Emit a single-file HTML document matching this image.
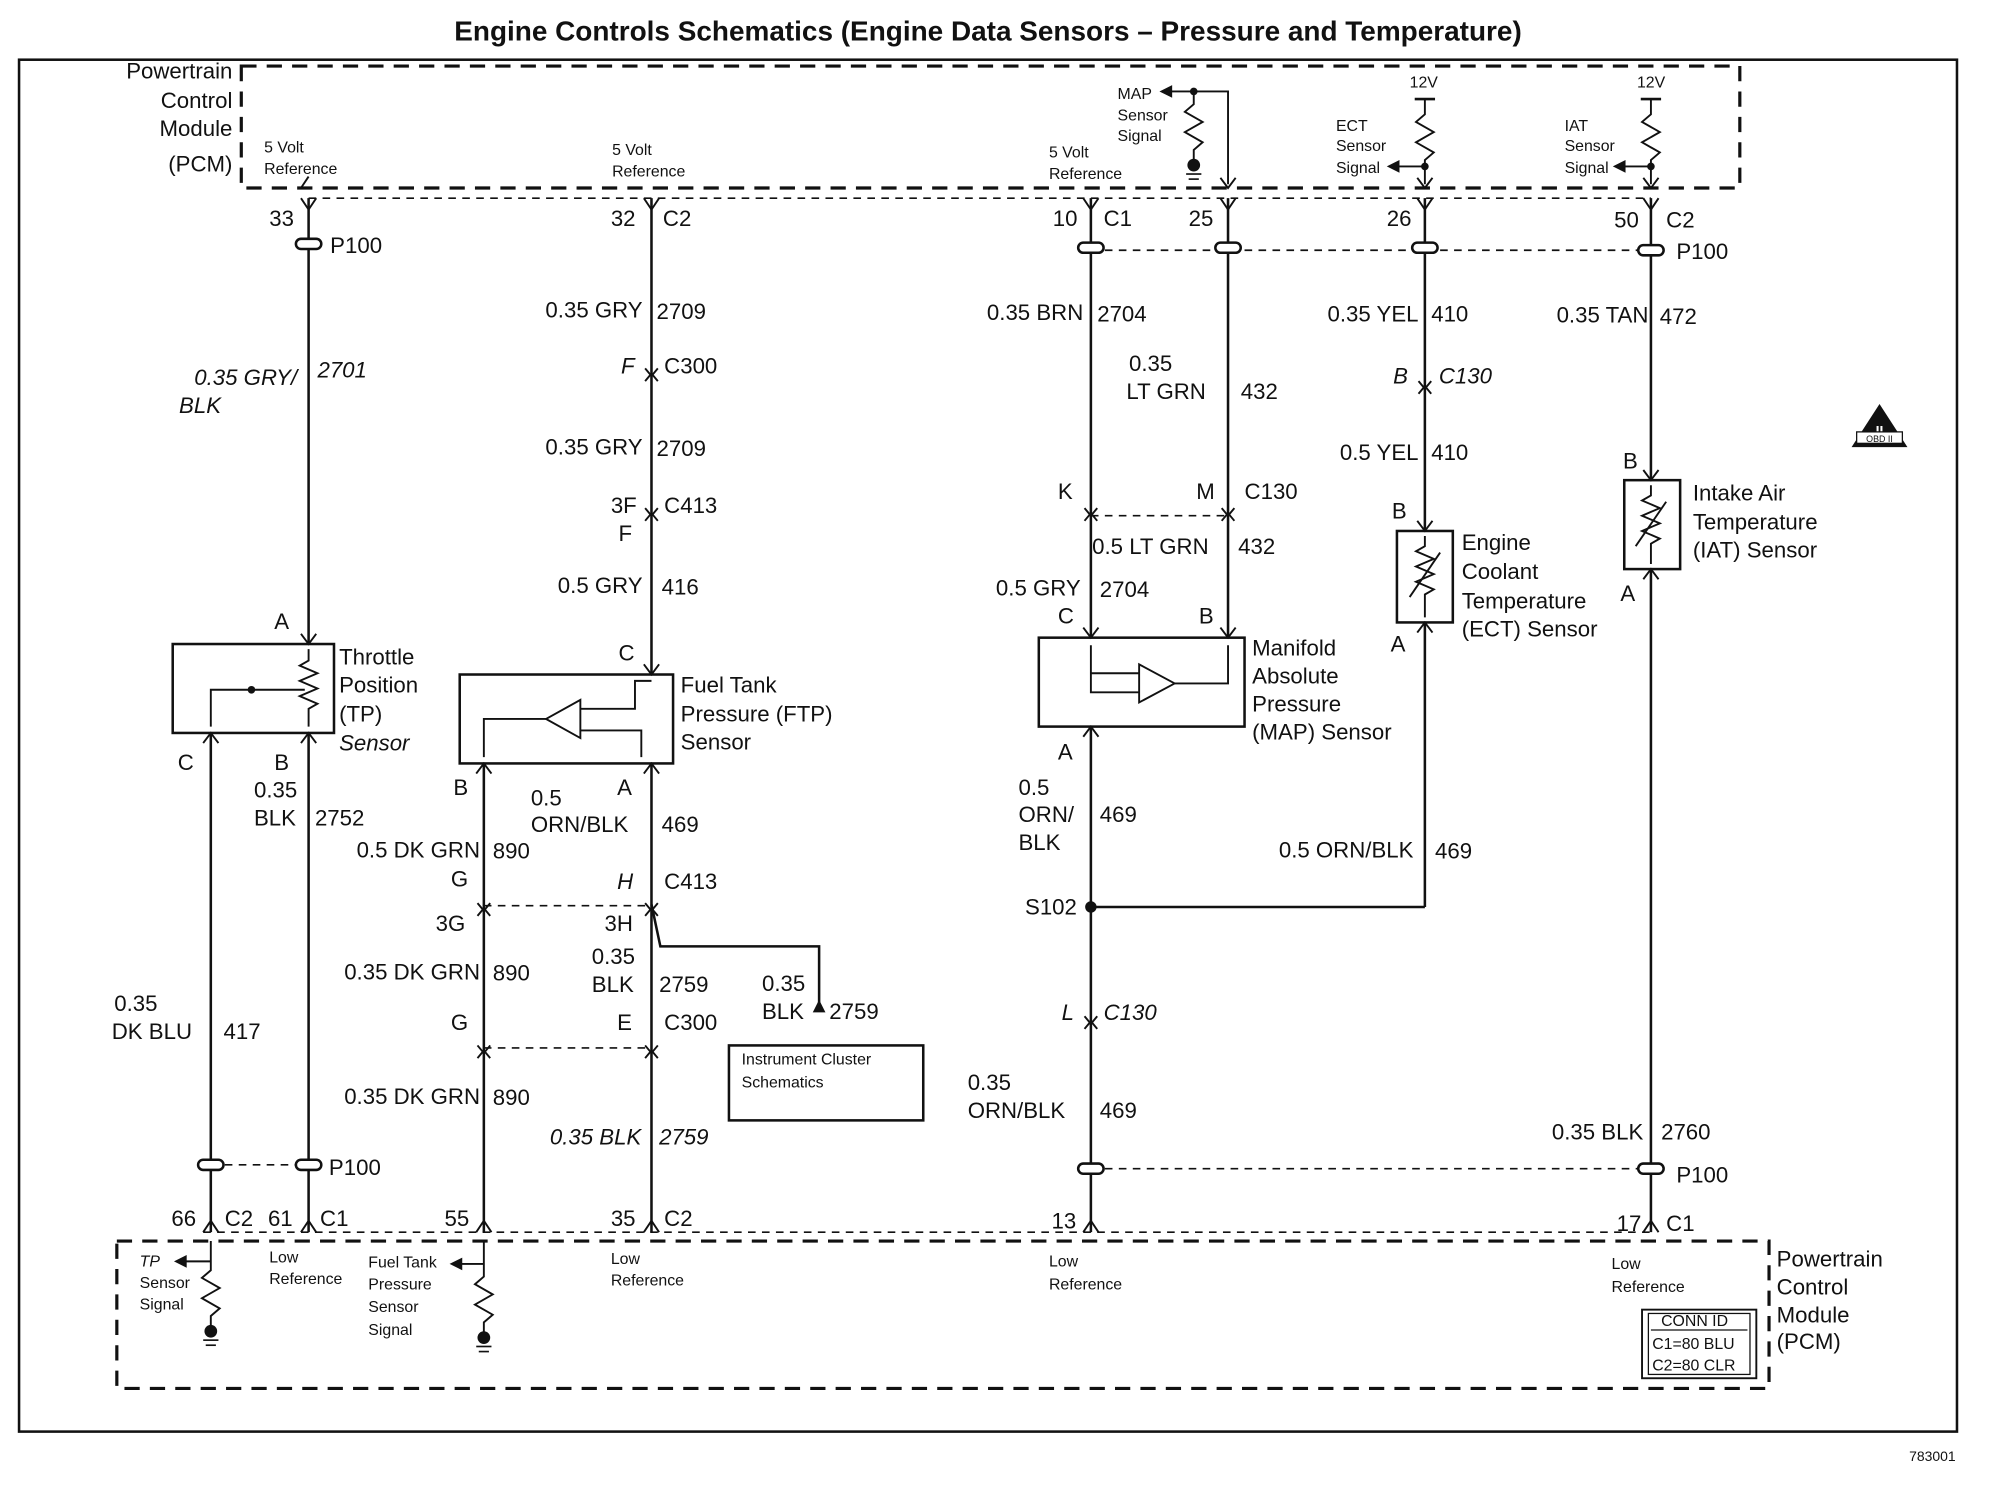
<!DOCTYPE html>
<html><head><style>
html,body{margin:0;padding:0;background:#fff;}
svg{display:block}
text{font-family:"Liberation Sans",Arial,sans-serif;fill:#111;}
.t{font-size:17.5px}
.s{font-size:12.5px}
.i{font-style:italic}
</style></head><body>
<svg width="1990" height="1504" viewBox="0 0 1567 1184" preserveAspectRatio="none" xmlns="http://www.w3.org/2000/svg">
<g stroke="#111" fill="none" stroke-width="2">
<rect x="15" y="47" width="1526" height="1080" stroke-width="2"/>
<rect x="190" y="52" width="1180" height="96" stroke-width="2.5" stroke-dasharray="12,8"/>
<rect x="92" y="977" width="1301" height="116" stroke-width="2.5" stroke-dasharray="12,8"/>
<line x1="243" y1="156" x2="1300" y2="156" stroke-width="1.3" stroke-dasharray="6,5"/>
<line x1="160" y1="970" x2="1300" y2="970" stroke-width="1.3" stroke-dasharray="6,5"/>
<line x1="243" y1="156" x2="243" y2="507"/>
<line x1="513" y1="156" x2="513" y2="531"/>
<line x1="859" y1="156" x2="859" y2="502"/>
<line x1="967" y1="156" x2="967" y2="502"/>
<line x1="1122" y1="156" x2="1122" y2="418"/>
<line x1="1300" y1="156" x2="1300" y2="378"/>
<line x1="166" y1="577" x2="166" y2="970"/>
<line x1="243" y1="577" x2="243" y2="970"/>
<line x1="381" y1="601" x2="381" y2="970"/>
<line x1="513" y1="601" x2="513" y2="970"/>
<line x1="859" y1="572" x2="859" y2="970"/>
<line x1="1122" y1="490" x2="1122" y2="714"/>
<line x1="859" y1="714" x2="1122" y2="714"/>
<line x1="1300" y1="448" x2="1300" y2="970"/>
<polyline points="513,712 520,745 645,745 645,790"/>
<g stroke-width="1.3" stroke-dasharray="6,5">
<line x1="859" y1="197" x2="1300" y2="197"/>
<line x1="166" y1="917" x2="243" y2="917"/>
<line x1="859" y1="920" x2="1300" y2="920"/>
<line x1="381" y1="713" x2="513" y2="713"/>
<line x1="381" y1="825" x2="513" y2="825"/>
<line x1="859" y1="406" x2="967" y2="406"/>
</g>
<rect x="136" y="507" width="127" height="70"/>
<rect x="362" y="531" width="168" height="70"/>
<rect x="818" y="502" width="162" height="70"/>
<rect x="1100" y="418" width="44" height="72"/>
<rect x="1279" y="378" width="44" height="70"/>
<rect x="574" y="823" width="153" height="59"/>
<polyline points="243,511 243,520 236,524 250,530 236,536 250,542 236,548 250,554 243,558 243,572" stroke-width="1.5"/>
<polyline points="240,543 166,543 166,572" stroke-width="1.5"/>
<polygon points="430,566 457,551 457,581" stroke-width="1.5"/>
<polyline points="430,566 381,566 381,596" stroke-width="1.5"/>
<polyline points="457,558 500,558 500,536 513,536" stroke-width="1.5"/>
<polyline points="457,575 505,575 505,596" stroke-width="1.5"/>
<polygon points="925,538 897,523 897,553" stroke-width="1.5"/>
<polyline points="897,545 859,545 859,508" stroke-width="1.5"/>
<polyline points="925,538 967,538 967,508" stroke-width="1.5"/>
<line x1="859" y1="530" x2="897" y2="530" stroke-width="1.5"/>
<polyline points="1122,422 1122,430 1115,434 1129,440 1115,446 1129,452 1115,458 1129,464 1122,468 1122,486" stroke-width="1.5"/>
<line x1="1110" y1="470" x2="1134" y2="435" stroke-width="1.5"/>
<polyline points="1300,382 1300,390 1293,394 1307,400 1293,406 1307,412 1293,418 1307,424 1300,428 1300,444" stroke-width="1.5"/>
<line x1="1288" y1="430" x2="1312" y2="395" stroke-width="1.5"/>
<polyline points="922,72 967,72 967,145" stroke-width="1.5"/>
<polyline points="940,72 940,82 933,88 947,96 933,104 947,112 940,118 940,126" stroke-width="1.5"/>
<polyline points="1122,78 1122,90 1115,96 1129,104 1115,112 1129,120 1122,126 1122,145" stroke-width="1.5"/>
<line x1="1114" y1="78" x2="1130" y2="78"/>
<line x1="1100" y1="131" x2="1122" y2="131" stroke-width="1.5"/>
<polyline points="1300,78 1300,90 1293,96 1307,104 1293,112 1307,120 1300,126 1300,145" stroke-width="1.5"/>
<line x1="1292" y1="78" x2="1308" y2="78"/>
<line x1="1278" y1="131" x2="1300" y2="131" stroke-width="1.5"/>
<polyline points="145,993 166,993" stroke-width="1.5"/>
<polyline points="166,977 166,1000 159,1006 173,1014 159,1022 173,1030 166,1036 166,1046" stroke-width="1.5"/>
<polyline points="362,995 381,995" stroke-width="1.5"/>
<polyline points="381,977 381,1005 374,1011 388,1019 374,1027 388,1035 381,1041 381,1052" stroke-width="1.5"/>
<g stroke-width="1.3">
<line x1="934" y1="137" x2="946" y2="137"/><line x1="936" y1="141" x2="944" y2="141"/>
<line x1="160" y1="1055" x2="172" y2="1055"/><line x1="162" y1="1059" x2="170" y2="1059"/>
<line x1="375" y1="1060" x2="387" y2="1060"/><line x1="377" y1="1064" x2="385" y2="1064"/>
</g>
<rect x="1293" y="1031" width="90" height="54" stroke-width="1.5"/>
<line x1="1300" y1="1047" x2="1376" y2="1047" stroke-width="1"/>
<rect x="1298" y="1034" width="80" height="48" stroke-width="1"/>
</g>
<g fill="#111">
<circle cx="940" cy="130" r="5"/><circle cx="166" cy="1048" r="5"/><circle cx="381" cy="1053" r="5"/>
<circle cx="859" cy="714" r="4.5"/><circle cx="940" cy="72" r="3"/><circle cx="1122" cy="131" r="3"/><circle cx="1300" cy="131" r="3"/><circle cx="198" cy="543" r="3"/>
<polygon points="913,72 923,67 923,77"/>
<polygon points="1092,131 1102,126 1102,136"/>
<polygon points="1270,131 1280,126 1280,136"/>
<polygon points="137,993 147,988 147,998"/>
<polygon points="354,995 364,990 364,1000"/>
<polygon points="645,787 640,797 650,797"/>
<polygon points="1480,318 1458,352 1502,352"/>
</g>
<g stroke="#111" fill="none" stroke-width="1.5">
<path d="M237,156 L243,165 L249,156 M507,156 L513,165 L519,156 M853,156 L859,165 L865,156 M961,156 L967,165 L973,156 M1116,156 L1122,165 L1128,156 M1294,156 L1300,165 L1306,156"/>
<path d="M237,970 L243,961 L249,970 M160,970 L166,961 L172,970 M375,970 L381,961 L387,970 M507,970 L513,961 L519,970 M853,970 L859,961 L865,970 M1294,970 L1300,961 L1306,970"/>
<path d="M237,148 L243,139 M961,140 L967,148 L973,140 M1116,140 L1122,148 L1128,140 M1294,140 L1300,148 L1306,140"/>
<path d="M237,499 L243,507 L249,499 M507,523 L513,531 L519,523 M853,494 L859,502 L865,494 M961,494 L967,502 L973,494 M1116,410 L1122,418 L1128,410 M1294,370 L1300,378 L1306,370"/>
<path d="M160,585 L166,577 L172,585 M237,585 L243,577 L249,585 M375,609 L381,601 L387,609 M507,609 L513,601 L519,609 M853,580 L859,572 L865,580 M1116,498 L1122,490 L1128,498 M1294,456 L1300,448 L1306,456"/>
<path d="M508,290 L513,296 L518,290 M508,300 L513,294 L518,300"/>
<path d="M508,400 L513,406 L518,400 M508,410 L513,404 L518,410"/>
<path d="M1117,300 L1122,306 L1127,300 M1117,310 L1122,304 L1127,310"/>
<path d="M854,400 L859,406 L864,400 M854,410 L859,404 L864,410 M962,400 L967,406 L972,400 M962,410 L967,404 L972,410"/>
<path d="M376,711 L381,717 L386,711 M376,721 L381,715 L386,721 M508,711 L513,717 L518,711 M508,721 L513,715 L518,721"/>
<path d="M376,823 L381,829 L386,823 M376,833 L381,827 L386,833 M508,823 L513,829 L518,823 M508,833 L513,827 L518,833"/>
<path d="M854,800 L859,806 L864,800 M854,810 L859,804 L864,810"/>
</g>
<g stroke="#111" fill="#fff" stroke-width="2">
<rect x="233" y="188" width="20" height="8" rx="4"/>
<rect x="849" y="191" width="20" height="8" rx="4"/><rect x="957" y="191" width="20" height="8" rx="4"/>
<rect x="1112" y="191" width="20" height="8" rx="4"/><rect x="1290" y="193" width="20" height="8" rx="4"/>
<rect x="156" y="913" width="20" height="8" rx="4"/><rect x="233" y="913" width="20" height="8" rx="4"/>
<rect x="849" y="916" width="20" height="8" rx="4"/><rect x="1290" y="916" width="20" height="8" rx="4"/>
</g>
<text x="778" y="32" text-anchor="middle" style="font-size:22px;font-weight:bold">Engine Controls Schematics (Engine Data Sensors – Pressure and Temperature)</text>
<g class="t" text-anchor="end">
<text x="183" y="62">Powertrain</text><text x="183" y="85">Control</text><text x="183" y="107">Module</text><text x="183" y="135">(PCM)</text>
<text x="234" y="303" class="i">0.35 GRY/</text>
<text x="506" y="250">0.35 GRY</text><text x="506" y="358">0.35 GRY</text><text x="506" y="467">0.5 GRY</text>
<text x="853" y="252">0.35 BRN</text><text x="851" y="469">0.5 GRY</text>
<text x="1117" y="253">0.35 YEL</text><text x="1117" y="362">0.5 YEL</text>
<text x="1298" y="254">0.35 TAN</text><text x="1113" y="675">0.5 ORN/BLK</text>
<text x="378" y="675">0.5 DK GRN</text><text x="378" y="771">0.35 DK GRN</text><text x="378" y="869">0.35 DK GRN</text>
<text x="505" y="901" class="i">0.35 BLK</text><text x="1294" y="897">0.35 BLK</text>
<text x="848" y="720">S102</text>
</g>
<g class="t">
<text x="141" y="325" class="i">BLK</text><text x="250" y="297" class="i">2701</text>
<text x="212" y="178">33</text><text x="481" y="178">32</text><text x="522" y="178">C2</text>
<text x="829" y="178">10</text><text x="869" y="178">C1</text><text x="936" y="178">25</text><text x="1092" y="178">26</text>
<text x="1271" y="179">50</text><text x="1312" y="179">C2</text>
<text x="260" y="199">P100</text><text x="1320" y="204">P100</text>
<text x="517" y="251">2709</text><text x="517" y="359">2709</text><text x="521" y="468">416</text>
<text x="489" y="294" class="i">F</text><text x="523" y="294">C300</text>
<text x="481" y="404">3F</text><text x="523" y="404">C413</text><text x="487" y="426">F</text>
<text x="487" y="520">C</text><text x="216" y="495">A</text>
<text x="267" y="523">Throttle</text><text x="267" y="545">Position</text><text x="267" y="568">(TP)</text><text x="267" y="591" class="i">Sensor</text>
<text x="536" y="545">Fuel Tank</text><text x="536" y="568">Pressure (FTP)</text><text x="536" y="590">Sensor</text>
<text x="140" y="606">C</text><text x="216" y="606">B</text>
<text x="200" y="628">0.35</text><text x="200" y="650">BLK</text><text x="248" y="650">2752</text>
<text x="357" y="626">B</text><text x="486" y="626">A</text>
<text x="418" y="634">0.5</text><text x="418" y="655">ORN/BLK</text><text x="521" y="655">469</text>
<text x="388" y="676">890</text><text x="388" y="772">890</text><text x="388" y="870">890</text>
<text x="355" y="698">G</text><text x="486" y="700" class="i">H</text><text x="523" y="700">C413</text>
<text x="343" y="733">3G</text><text x="476" y="733">3H</text>
<text x="466" y="759">0.35</text><text x="466" y="781">BLK</text><text x="519" y="781">2759</text>
<text x="600" y="780">0.35</text><text x="600" y="802">BLK</text><text x="653" y="802">2759</text>
<text x="355" y="811">G</text><text x="486" y="811">E</text><text x="523" y="811">C300</text>
<text x="519" y="901" class="i">2759</text>
<text x="90" y="796">0.35</text><text x="88" y="818">DK BLU</text><text x="176" y="818">417</text>
<text x="259" y="925">P100</text>
<text x="135" y="965">66</text><text x="177" y="965">C2</text><text x="211" y="965">61</text><text x="252" y="965">C1</text>
<text x="350" y="965">55</text><text x="481" y="965">35</text><text x="523" y="965">C2</text>
<text x="864" y="253">2704</text><text x="866" y="470">2704</text>
<text x="889" y="292">0.35</text><text x="887" y="314">LT GRN</text><text x="977" y="314">432</text>
<text x="833" y="393">K</text><text x="942" y="393">M</text><text x="980" y="393">C130</text>
<text x="860" y="436">0.5 LT GRN</text><text x="975" y="436">432</text>
<text x="833" y="491">C</text><text x="944" y="491">B</text>
<text x="986" y="516">Manifold</text><text x="986" y="538">Absolute</text><text x="986" y="560">Pressure</text><text x="986" y="582">(MAP) Sensor</text>
<text x="833" y="598">A</text>
<text x="802" y="626">0.5</text><text x="802" y="647">ORN/</text><text x="802" y="669">BLK</text><text x="866" y="647">469</text>
<text x="836" y="803" class="i">L</text><text x="869" y="803" class="i">C130</text>
<text x="762" y="858">0.35</text><text x="762" y="880">ORN/BLK</text><text x="866" y="880">469</text>
<text x="828" y="967">13</text>
<text x="1127" y="253">410</text><text x="1127" y="362">410</text><text x="1307" y="255">472</text>
<text x="1097" y="302" class="i">B</text><text x="1133" y="302" class="i">C130</text>
<text x="1096" y="408">B</text><text x="1095" y="513">A</text>
<text x="1151" y="433">Engine</text><text x="1151" y="456">Coolant</text><text x="1151" y="479">Temperature</text><text x="1151" y="501">(ECT) Sensor</text>
<text x="1130" y="676">469</text>
<text x="1278" y="369">B</text><text x="1276" y="473">A</text>
<text x="1333" y="394">Intake Air</text><text x="1333" y="417">Temperature</text><text x="1333" y="439">(IAT) Sensor</text>
<text x="1308" y="897">2760</text><text x="1320" y="931">P100</text>
<text x="1273" y="969">17</text><text x="1312" y="969">C1</text>
<text x="1399" y="997">Powertrain</text><text x="1399" y="1019">Control</text><text x="1399" y="1041">Module</text><text x="1399" y="1062">(PCM)</text>
</g>
<g class="s">
<text x="208" y="120">5 Volt</text><text x="208" y="137">Reference</text>
<text x="482" y="122">5 Volt</text><text x="482" y="139">Reference</text>
<text x="826" y="124">5 Volt</text><text x="826" y="141">Reference</text>
<text x="880" y="78">MAP</text><text x="880" y="95">Sensor</text><text x="880" y="111">Signal</text>
<text x="1110" y="69">12V</text><text x="1289" y="69">12V</text>
<text x="1052" y="103">ECT</text><text x="1052" y="119">Sensor</text><text x="1052" y="136">Signal</text>
<text x="1232" y="103">IAT</text><text x="1232" y="119">Sensor</text><text x="1232" y="136">Signal</text>
<text x="110" y="997" class="i">TP</text><text x="110" y="1014">Sensor</text><text x="110" y="1031">Signal</text>
<text x="212" y="994">Low</text><text x="212" y="1011">Reference</text>
<text x="290" y="998">Fuel Tank</text><text x="290" y="1015">Pressure</text><text x="290" y="1033">Sensor</text><text x="290" y="1051">Signal</text>
<text x="481" y="995">Low</text><text x="481" y="1012">Reference</text>
<text x="826" y="997">Low</text><text x="826" y="1015">Reference</text>
<text x="1269" y="999">Low</text><text x="1269" y="1017">Reference</text>
<text x="584" y="838">Instrument Cluster</text><text x="584" y="856">Schematics</text>
<text x="1308" y="1044">CONN ID</text><text x="1301" y="1062">C1=80 BLU</text><text x="1301" y="1079">C2=80 CLR</text>
<text x="1540" y="1150" text-anchor="end" style="font-size:11px">783001</text>
</g>
<text x="1480" y="343" text-anchor="middle" style="font-size:11px;fill:#fff;font-weight:bold">II</text>
<rect x="1462" y="340" width="36" height="9" fill="#fff" stroke="#111" stroke-width="1"/>
<text x="1480" y="348" text-anchor="middle" style="font-size:7px">OBD II</text>
</svg>
</body></html>
